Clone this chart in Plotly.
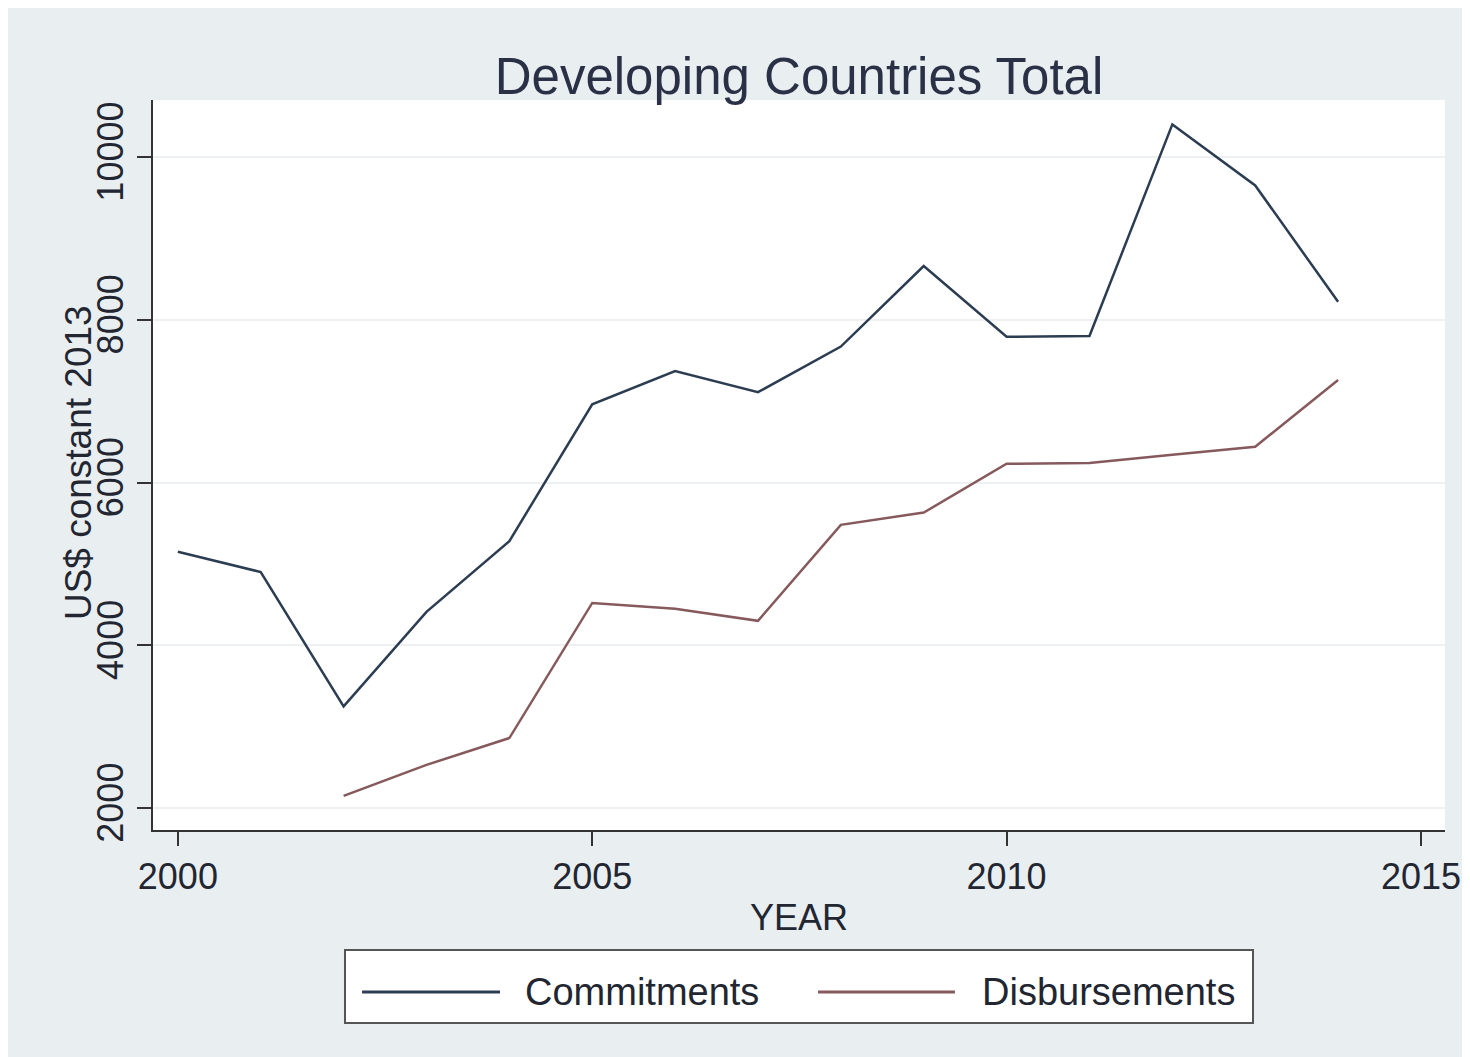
import plotly.graph_objects as go

years_c = list(range(2000, 2015))
commitments = [5150, 4900, 3250, 4410, 5280, 6960, 7370, 7110, 7670, 8660, 7790, 7800, 10400, 9650, 8220]
years_d = list(range(2002, 2015))
disbursements = [2150, 2530, 2860, 4520, 4450, 4300, 5480, 5630, 6230, 6240, 6340, 6440, 7260]

x_ticks = [2000, 2005, 2010, 2015]
y_ticks = [2000, 4000, 6000, 8000, 10000]
y_tick_text = ["2000", "4000", "6000", "8000", "10000"]

series_names = ["Commitments", "Disbursements"]
series_colors = ["#2c3d52", "#86595c"]

FONT = "Liberation Sans, Arial, sans-serif"
TXT = "#222631"

fig = go.Figure()
fig.add_trace(go.Scatter(x=years_c, y=commitments, mode="lines", name=series_names[0],
                         line=dict(color=series_colors[0], width=2.5)))
fig.add_trace(go.Scatter(x=years_d, y=disbursements, mode="lines", name=series_names[1],
                         line=dict(color=series_colors[1], width=2.5)))

# legend drawn as decoration (box, sample lines, labels)
leg_y = -0.2219
leg_items = [(0.1618, 0.2686, 0.2864), (0.5147, 0.6207, 0.6401)]
shapes = [dict(type="rect", xref="paper", yref="paper",
               x0=0.1486, x1=0.8514, y0=-0.2644, y1=-0.1644,
               fillcolor="#ffffff", line=dict(color="#555555", width=2), layer="below")]
annotations = [dict(text="US$ constant 2013", xref="paper", yref="paper",
                    x=-0.058, y=0.5027, xanchor="center", yanchor="middle",
                    textangle=-90, showarrow=False,
                    font=dict(family=FONT, size=37, color=TXT))]
for (x0, x1, xt), name, col in zip(leg_items, series_names, series_colors):
    shapes.append(dict(type="line", xref="paper", yref="paper", x0=x0, x1=x1,
                       y0=leg_y, y1=leg_y, line=dict(color=col, width=3)))
    annotations.append(dict(text=name, xref="paper", yref="paper", x=xt, y=leg_y,
                            xanchor="left", yanchor="middle", showarrow=False,
                            font=dict(family=FONT, size=38, color=TXT)))

fig.update_layout(
    width=1470, height=1057,
    paper_bgcolor="#e9eef1", plot_bgcolor="#ffffff",
    margin=dict(l=145, r=33, t=92, b=235),
    title=dict(text="Developing Countries Total", x=0.5, xref="paper", xanchor="center",
               y=1 - 68 / 1057, yanchor="middle",
               font=dict(family=FONT, size=51, color="#2a3045")),
    font=dict(family=FONT, color=TXT),
    showlegend=False,
    shapes=shapes,
    annotations=annotations,
)
fig.update_xaxes(range=[1999.7, 2015.29], tickvals=x_ticks, ticks="outside", ticklen=14,
                 tickwidth=1.5, tickcolor="#333", showline=True, linecolor="#333", linewidth=2,
                 showgrid=False, zeroline=False,
                 tickfont=dict(size=36, color=TXT),
                 title=dict(text="YEAR", font=dict(size=36, color=TXT), standoff=9))
fig.update_yaxes(range=[1730, 10700], tickvals=y_ticks, ticktext=y_tick_text,
                 ticks="outside", ticklen=14,
                 tickwidth=1.5, tickcolor="#333", showline=True, linecolor="#333", linewidth=2,
                 showgrid=True, gridcolor="#edf1f3", gridwidth=2, zeroline=False,
                 tickangle=-90, tickfont=dict(size=36, color=TXT))

fig.write_html("out.html")
